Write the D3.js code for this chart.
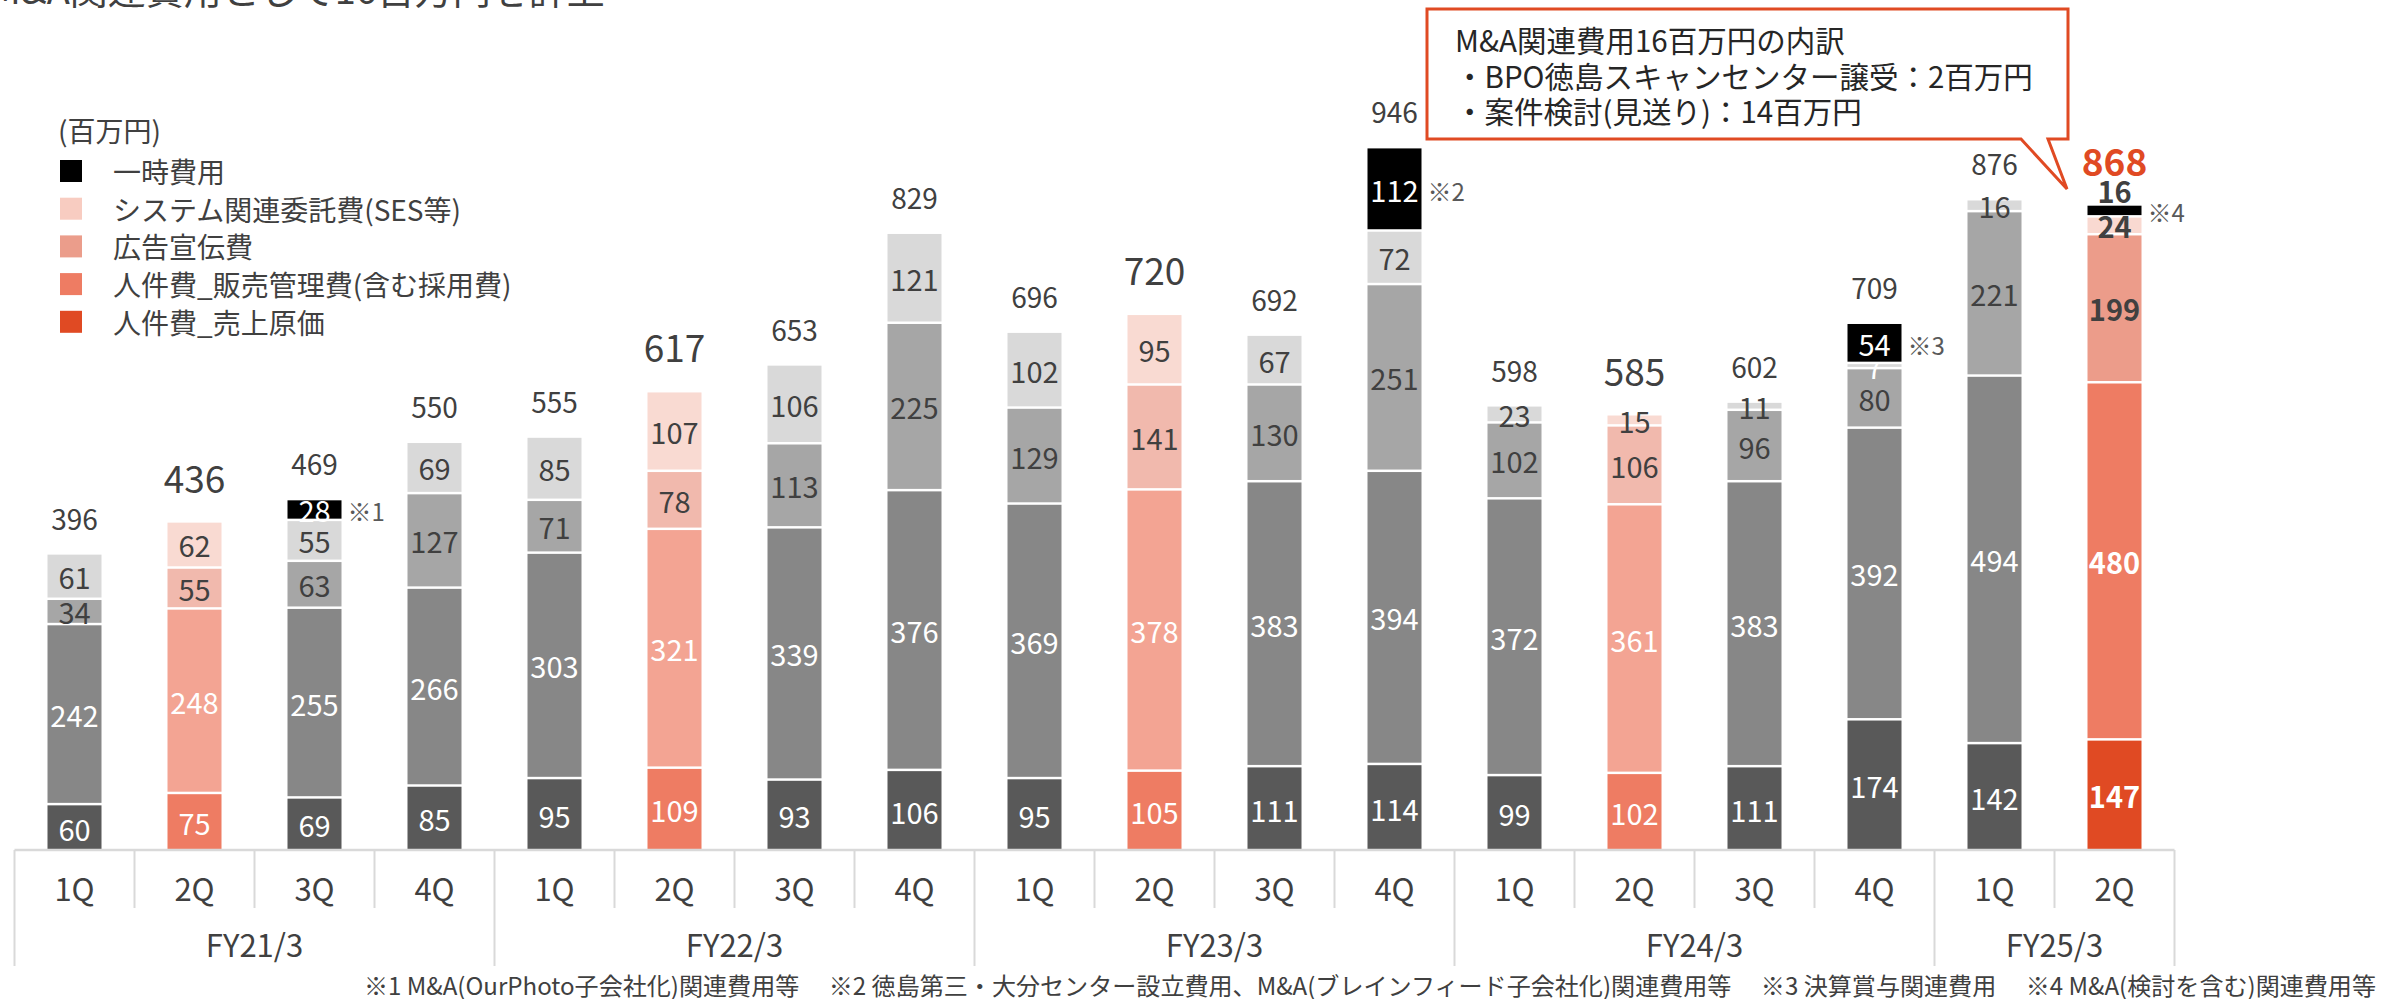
<!DOCTYPE html>
<html lang="ja">
<head>
    <meta charset="UTF-8">
    <title>費用推移</title>
    <script src="https://cdn.jsdelivr.net/npm/d3@7"></script>
    <style>
        body { margin: 0; background: #fff; }
        text { font-family: "Noto Sans CJK JP", "Noto Sans", sans-serif; }
    </style>
</head>
<body>
    <script>
        // 四半期ごとの費用 (百万円)
        var yearLabels = ["FY21/3", "FY22/3", "FY23/3", "FY24/3", "FY25/3"];
        var yearSize = [4, 4, 4, 4, 2];
        var quarterLabels = ["1Q","2Q","3Q","4Q","1Q","2Q","3Q","4Q","1Q","2Q","3Q","4Q","1Q","2Q","3Q","4Q","1Q","2Q"];

        var genka   = [60, 75, 69, 85, 95, 109, 93, 106, 95, 105, 111, 114, 99, 102, 111, 174, 142, 147];
        var hankan  = [242, 248, 255, 266, 303, 321, 339, 376, 369, 378, 383, 394, 372, 361, 383, 392, 494, 480];
        var koukoku = [34, 55, 63, 127, 71, 78, 113, 225, 129, 141, 130, 251, 102, 106, 96, 80, 221, 199];
        var ses     = [61, 62, 55, 69, 85, 107, 106, 121, 102, 95, 67, 72, 23, 15, 11, 7, 16, 24];
        var ichiji  = [0, 0, 28, 0, 0, 0, 0, 0, 0, 0, 0, 112, 0, 0, 0, 54, 0, 16];
        var totals  = [396, 436, 469, 550, 555, 617, 653, 829, 696, 720, 692, 946, 598, 585, 602, 709, 876, 868];
        var notes   = ["", "", "※1", "", "", "", "", "", "", "", "", "※2", "", "", "", "※3", "", "※4"];

        var seriesNames = ["人件費_売上原価", "人件費_販売管理費(含む採用費)", "広告宣伝費", "システム関連委託費(SES等)", "一時費用"];
        var keys = ["genka", "hankan", "koukoku", "ses", "ichiji"];

        var footnote = "※1 M&A(OurPhoto子会社化)関連費用等　 ※2 徳島第三・大分センター設立費用、M&A(ブレインフィード子会社化)関連費用等　 ※3 決算賞与関連費用　 ※4 M&A(検討を含む)関連費用等";
        var calloutLines = ["M&A関連費用16百万円の内訳", "・BPO徳島スキャンセンター譲受：2百万円", "・案件検討(見送り)：14百万円"];

        var w = 2381, h = 999;
        var textColor = "#404040";
        var palette = {
            gray:   ["#595959", "#878787", "#A6A6A6", "#D9D9D9", "#000000"],
            light:  ["#EE7C63", "#F3A493", "#F1B9AD", "#F9DAD2", "#000000"],
            accent: ["#E04A23", "#EE7C63", "#EC9C8A", "#F9D9D1", "#000000"]
        };
        var legendColors = ["#E04A23", "#EE7C63", "#EB9D8B", "#F8CCC1", "#000000"];

        var rows = quarterLabels.map(function(q, i) {
            return { i: i, q: q, genka: genka[i], hankan: hankan[i], koukoku: koukoku[i], ses: ses[i], ichiji: ichiji[i] };
        });
        function kind(i) {
            if (i === rows.length - 1) return "accent";
            return quarterLabels[i] === "2Q" ? "light" : "gray";
        }

        var svg = d3.select("body").append("svg")
            .attr("width", w)
            .attr("height", h);

        var x = d3.scaleBand()
            .domain(d3.range(rows.length))
            .range([14.5, 2174.5])
            .paddingInner(0.55)
            .paddingOuter(0.275);
        var bw = x.bandwidth();
        var step = x.step();
        var y = d3.scaleLinear().domain([0, 1000]).range([850, 106]);
        var gap = 2.5;

        var stacked = d3.stack().keys(keys)(rows);

        // 積み上げ棒
        var layers = svg.append("g").selectAll("g")
            .data(stacked)
            .enter().append("g");

        layers.selectAll("rect")
            .data(function(d, k) { return d.map(function(s) { s.k = k; return s; }); })
            .enter().append("rect")
            .filter(function(d) { return d[1] - d[0] > 0; })
            .attr("x", function(d) { return x(d.data.i); })
            .attr("width", bw)
            .attr("y", function(d) { return y(d[1]); })
            .attr("height", function(d) {
                return Math.max(0.5, y(d[0]) - y(d[1]) - (d[0] > 0 ? gap : 0));
            })
            .attr("fill", function(d) { return palette[kind(d.data.i)][d.k]; });

        // 棒内の数値
        layers.selectAll("text")
            .data(function(d, k) { return d.map(function(s) { s.k = k; return s; }); })
            .enter().append("text")
            .filter(function(d) { return d[1] - d[0] > 0; })
            .text(function(d) { return d[1] - d[0]; })
            .attr("x", function(d) { return x(d.data.i) + bw / 2; })
            .attr("y", function(d) {
                var v = d[1] - d[0];
                if (d.k === 4 && v < 20) return y(d[1]) - 16;
                return (y(d[0]) + y(d[1])) / 2 - (d[0] > 0 ? gap / 2 : 0);
            })
            .attr("text-anchor", "middle")
            .attr("dominant-baseline", "central")
            .attr("font-size", "29px")
            .attr("font-weight", function(d) { return kind(d.data.i) === "accent" ? 700 : 400; })
            .attr("fill", function(d) {
                var v = d[1] - d[0];
                if (d.k === 4) return v < 20 ? textColor : "#fff";
                if (v < 10) return "#fff";
                return d.k <= 1 ? "#fff" : textColor;
            });

        // 合計
        svg.append("g").selectAll("text")
            .data(rows)
            .enter().append("text")
            .text(function(d) { return totals[d.i]; })
            .attr("x", function(d) { return x(d.i) + bw / 2; })
            .attr("y", function(d) {
                var top = stacked[4][d.i][1];
                return y(top) - (d.q === "2Q" ? 46 : 37);
            })
            .attr("text-anchor", "middle")
            .attr("dominant-baseline", "central")
            .attr("font-size", function(d) { return d.q === "2Q" ? "37px" : "28px"; })
            .attr("font-weight", function(d) { return kind(d.i) === "accent" ? 700 : 400; })
            .attr("fill", function(d) { return kind(d.i) === "accent" ? "#E04A23" : textColor; });

        // ※注記
        svg.append("g").selectAll("text")
            .data(rows.filter(function(d) { return notes[d.i] !== ""; }))
            .enter().append("text")
            .text(function(d) { return notes[d.i]; })
            .attr("x", function(d) { return x(d.i) + bw + 6; })
            .attr("y", function(d) { return (y(stacked[4][d.i][0]) + y(stacked[4][d.i][1])) / 2; })
            .attr("dominant-baseline", "central")
            .attr("font-size", "24px")
            .attr("fill", "#595959");

        // 横軸
        var axis = svg.append("g");
        var left = x(0) + bw / 2 - step / 2;
        var right = left + step * rows.length;
        axis.append("line")
            .attr("x1", left).attr("x2", right)
            .attr("y1", 850).attr("y2", 850)
            .attr("stroke", "#D9D9D9").attr("stroke-width", 2.5);

        var yearStarts = [0];
        yearSize.forEach(function(n, j) { yearStarts.push(yearStarts[j] + n); });

        axis.selectAll("line.tick")
            .data(d3.range(rows.length + 1))
            .enter().append("line")
            .attr("class", "tick")
            .attr("x1", function(i) { return left + i * step; })
            .attr("x2", function(i) { return left + i * step; })
            .attr("y1", 850)
            .attr("y2", function(i) { return yearStarts.indexOf(i) >= 0 ? 966 : 908; })
            .attr("stroke", "#D9D9D9").attr("stroke-width", 2);

        axis.selectAll("text.q")
            .data(rows)
            .enter().append("text")
            .attr("class", "q")
            .text(function(d) { return d.q; })
            .attr("x", function(d) { return x(d.i) + bw / 2; })
            .attr("y", 887)
            .attr("text-anchor", "middle")
            .attr("dominant-baseline", "central")
            .attr("font-size", "31px")
            .attr("fill", textColor);

        axis.selectAll("text.fy")
            .data(yearLabels)
            .enter().append("text")
            .attr("class", "fy")
            .text(function(d) { return d; })
            .attr("x", function(d, j) { return left + (yearStarts[j] + yearSize[j] / 2) * step; })
            .attr("y", 943)
            .attr("text-anchor", "middle")
            .attr("dominant-baseline", "central")
            .attr("font-size", "31px")
            .attr("fill", textColor);

        // 凡例
        var legend = svg.append("g");
        legend.append("text")
            .text("(百万円)")
            .attr("x", 58).attr("y", 130)
            .attr("dominant-baseline", "central")
            .attr("font-size", "28px")
            .attr("fill", textColor);
        var items = legend.selectAll("g.item")
            .data(d3.range(seriesNames.length).reverse())
            .enter().append("g")
            .attr("class", "item")
            .attr("transform", function(k, j) { return "translate(0," + (171 + j * 37.7) + ")"; });
        items.append("rect")
            .attr("x", 60).attr("y", -11)
            .attr("width", 22).attr("height", 22)
            .attr("fill", function(k) { return legendColors[k]; });
        items.append("text")
            .text(function(k) { return seriesNames[k]; })
            .attr("x", 113).attr("y", 0)
            .attr("dominant-baseline", "central")
            .attr("font-size", "28px")
            .attr("fill", textColor);

        // タイトル(上端で切れている)
        svg.append("text")
            .text("M&A関連費用として16百万円を計上")
            .attr("x", -10).attr("y", 4)
            .attr("font-size", "38px")
            .attr("fill", textColor);

        // 吹き出し
        var callout = svg.append("g");
        callout.append("path")
            .attr("d", "M1427,9 H2068 V139 H2048 L2067,189 L2021,139 H1427 Z")
            .attr("fill", "#fff")
            .attr("stroke", "#E04A23")
            .attr("stroke-width", 3);
        callout.selectAll("text")
            .data(calloutLines)
            .enter().append("text")
            .text(function(d) { return d; })
            .attr("x", 1455)
            .attr("y", function(d, j) { return 39 + j * 35.5; })
            .attr("dominant-baseline", "central")
            .attr("font-size", "29.5px")
            .attr("fill", "#262626");

        // 脚注
        svg.append("text")
            .text(footnote)
            .attr("x", 2376).attr("y", 984)
            .attr("text-anchor", "end")
            .attr("dominant-baseline", "central")
            .attr("font-size", "24px")
            .attr("textLength", 2012)
            .attr("lengthAdjust", "spacingAndGlyphs")
            .attr("fill", textColor);
    </script>
</body>
</html>
